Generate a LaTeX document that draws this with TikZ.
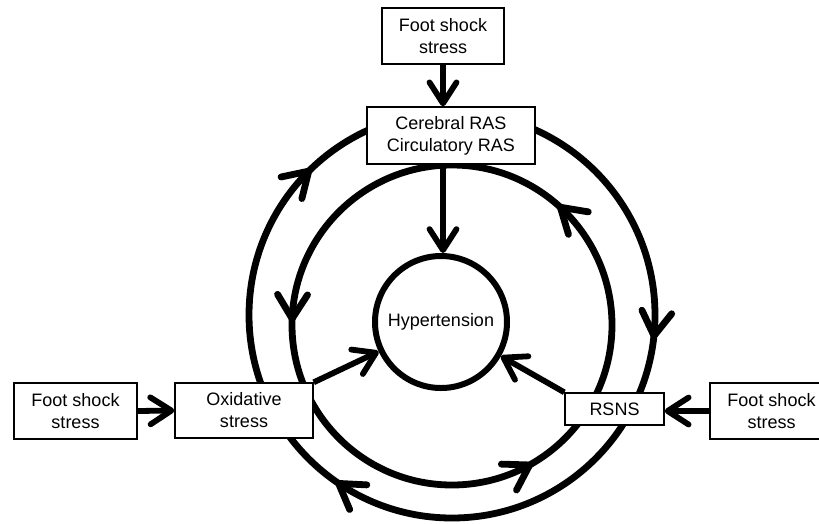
\documentclass[tikz,border=0pt]{standalone}
\usepackage{fontspec}
\setmainfont{Liberation Sans}
\usetikzlibrary{arrows.meta,decorations.markings}
\tikzset{
  barbtip/.tip={Straight Barb[length=21pt,width=27pt,line cap=round,line join=round]},
  ringtip/.tip={Straight Barb[length=24pt,width=30pt,line cap=round,line join=round]},
}
\begin{document}
\begin{tikzpicture}[x=1pt,y=-1pt,
  box/.style={draw,fill=white,line width=1.4pt,inner sep=0pt,align=center,
    font=\fontsize{18}{22}\selectfont},
  link/.style={line width=5.8pt,-barbtip},
  ring/.style={line width=6.8pt},
]
\useasboundingbox (0,0) rectangle (819,523);
\clip (0,0) rectangle (819,523);

% outer ring (clockwise on screen)
\draw[ring, postaction=decorate, decoration={markings,
  mark=at position 0.269 with {\arrow{ringtip}},
  mark=at position 0.597 with {\arrow{ringtip}},
  mark=at position 0.878 with {\arrow{ringtip}}}]
  (452,112) arc[start angle=-90,end angle=270,radius=203];

% inner ring (counterclockwise on screen)
\draw[ring, postaction=decorate, decoration={markings,
  mark=at position 0.247 with {\arrow{ringtip}},
  mark=at position 0.584 with {\arrow{ringtip}},
  mark=at position 0.885 with {\arrow{ringtip}}}]
  (452,165) arc[start angle=270,end angle=-90,radius=160];

\node[box,minimum width=122pt,minimum height=56pt] (topfoot) at (443,36) {Foot shock\\stress};
\node[box,minimum width=168pt,minimum height=57pt] (ras) at (451,135.5) {Cerebral RAS\\Circulatory RAS};
\node[box,minimum width=123pt,minimum height=56pt] (leftfoot) at (75.5,411) {Foot shock\\stress};
\node[box,minimum width=138pt,minimum height=55pt] (oxi) at (244,410.5) {Oxidative\\stress};
\node[box,minimum width=99pt,minimum height=32pt] (rsns) at (614.5,409) {RSNS};
\node[box,minimum width=123pt,minimum height=56pt] (rightfoot) at (771.5,411) {Foot shock\\stress};
\node[draw,circle,line width=6pt,minimum size=132pt,inner sep=0pt,
  font=\fontsize{18}{22}\selectfont] (hyp) at (441,322) {Hypertension};

\draw[link] (topfoot.south) -- (topfoot.south |- ras.north);
\draw[link] (ras.south -| topfoot.south) -- (hyp.north -| topfoot.south);
\draw[link] (leftfoot.east) -- (oxi.west);
\draw[link] (rightfoot.west) -- (rightfoot.west -| rsns.east);
\draw[link] (oxi.north east) -- (hyp);
\draw[link] (rsns.north west) -- (hyp);
\end{tikzpicture}
\end{document}
